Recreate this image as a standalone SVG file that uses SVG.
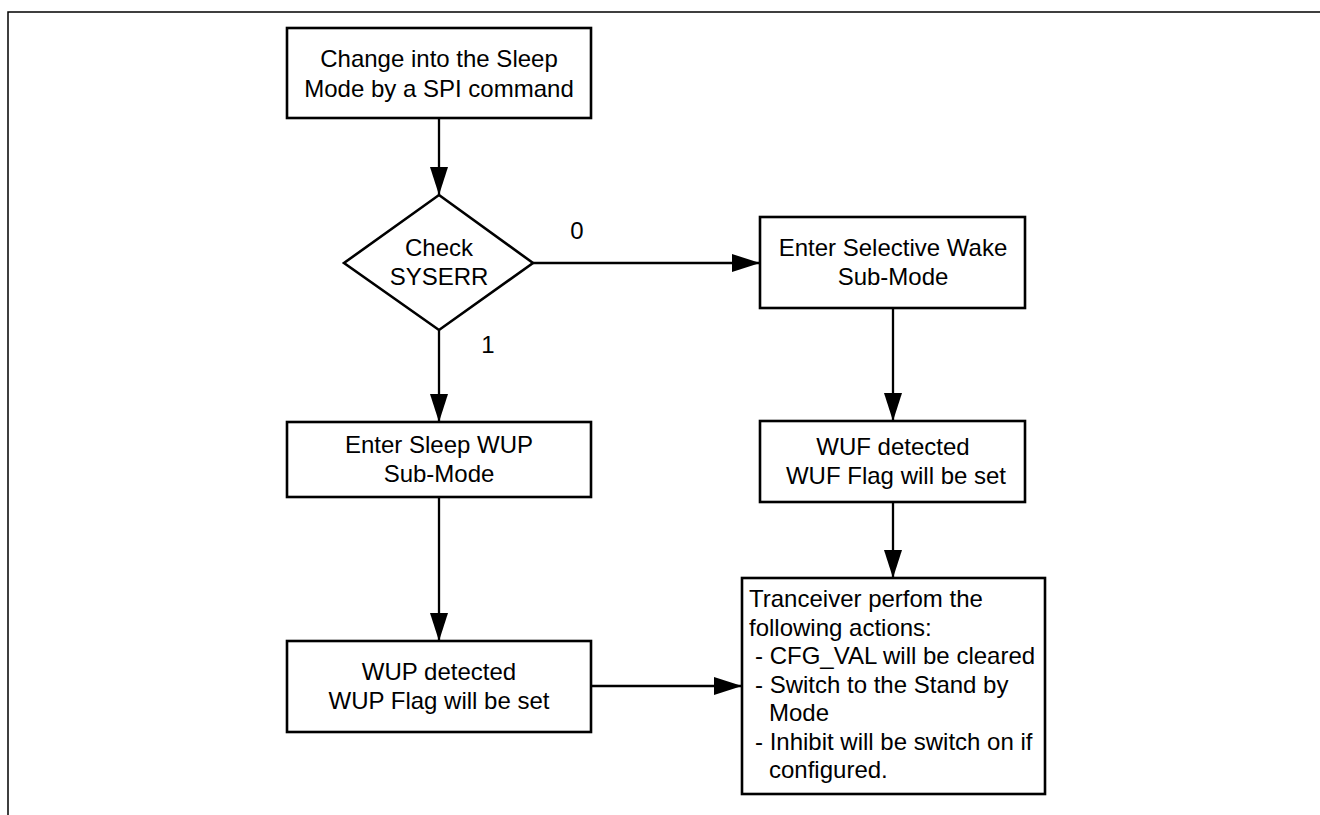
<svg xmlns="http://www.w3.org/2000/svg" width="1320" height="815" viewBox="0 0 1320 815">
<style>
.box{fill:#fff;stroke:#000;stroke-width:2.6}
.edge{fill:none;stroke:#000;stroke-width:2.3}
text{font-family:"Liberation Sans",Arial,sans-serif;font-size:24px;fill:#000}
.c{text-anchor:middle}
.frame{fill:none;stroke:#000;stroke-width:1.5}
</style>
<defs>
<marker id="ah" markerUnits="userSpaceOnUse" markerWidth="28" markerHeight="18" refX="28" refY="9" orient="auto">
<path d="M0,0 L28,9 L0,18 z" fill="#000"/>
</marker>
</defs>
<rect width="1320" height="815" fill="#fff"/>
<polyline class="frame" points="8,815 8,12 1320,12"/>
<g id="connectors">
<line class="edge" x1="439" y1="118" x2="439" y2="195" marker-end="url(#ah)"/>
<line class="edge" x1="533" y1="263" x2="760" y2="263" marker-end="url(#ah)"/>
<line class="edge" x1="439" y1="330" x2="439" y2="422" marker-end="url(#ah)"/>
<line class="edge" x1="893" y1="308" x2="893" y2="421" marker-end="url(#ah)"/>
<line class="edge" x1="439" y1="497" x2="439" y2="641" marker-end="url(#ah)"/>
<line class="edge" x1="893" y1="502" x2="893" y2="578" marker-end="url(#ah)"/>
<line class="edge" x1="591" y1="686" x2="742" y2="686" marker-end="url(#ah)"/>
<text x="577" y="239" class="c">0</text>
<text x="488" y="353" class="c">1</text>
</g>
<g id="start">
<rect class="box" x="287" y="28" width="304" height="90"/>
<text x="439" y="67" class="c">Change into the Sleep</text>
<text x="439" y="97" class="c">Mode by a SPI command</text>
</g>
<g id="check">
<polygon class="box" points="439,195 533,263 439,330 344,263"/>
<text x="439" y="256" class="c">Check</text>
<text x="439" y="285" class="c">SYSERR</text>
</g>
<g id="selective">
<rect class="box" x="760" y="217" width="265" height="91"/>
<text x="893" y="256" class="c">Enter Selective Wake</text>
<text x="893" y="285" class="c">Sub-Mode</text>
</g>
<g id="wuf">
<rect class="box" x="760" y="421" width="265" height="81"/>
<text x="893" y="455" class="c">WUF detected</text>
<text x="896" y="484" class="c">WUF Flag will be set</text>
</g>
<g id="sleepwup">
<rect class="box" x="287" y="422" width="304" height="75"/>
<text x="439" y="453" class="c">Enter Sleep WUP</text>
<text x="439" y="482" class="c">Sub-Mode</text>
</g>
<g id="wup">
<rect class="box" x="287" y="641" width="304" height="91"/>
<text x="439" y="680" class="c">WUP detected</text>
<text x="439" y="709" class="c">WUP Flag will be set</text>
</g>
<g id="tranceiver">
<rect class="box" x="742" y="578" width="303" height="216"/>
<text x="749" y="607">Tranceiver perfom the</text>
<text x="749" y="635.5">following actions:</text>
<text x="755" y="664">- CFG_VAL will be cleared</text>
<text x="755" y="692.5">- Switch to the Stand by</text>
<text x="769" y="721">Mode</text>
<text x="755" y="749.5">- Inhibit will be switch on if</text>
<text x="769" y="778">configured.</text>
</g>
</svg>
